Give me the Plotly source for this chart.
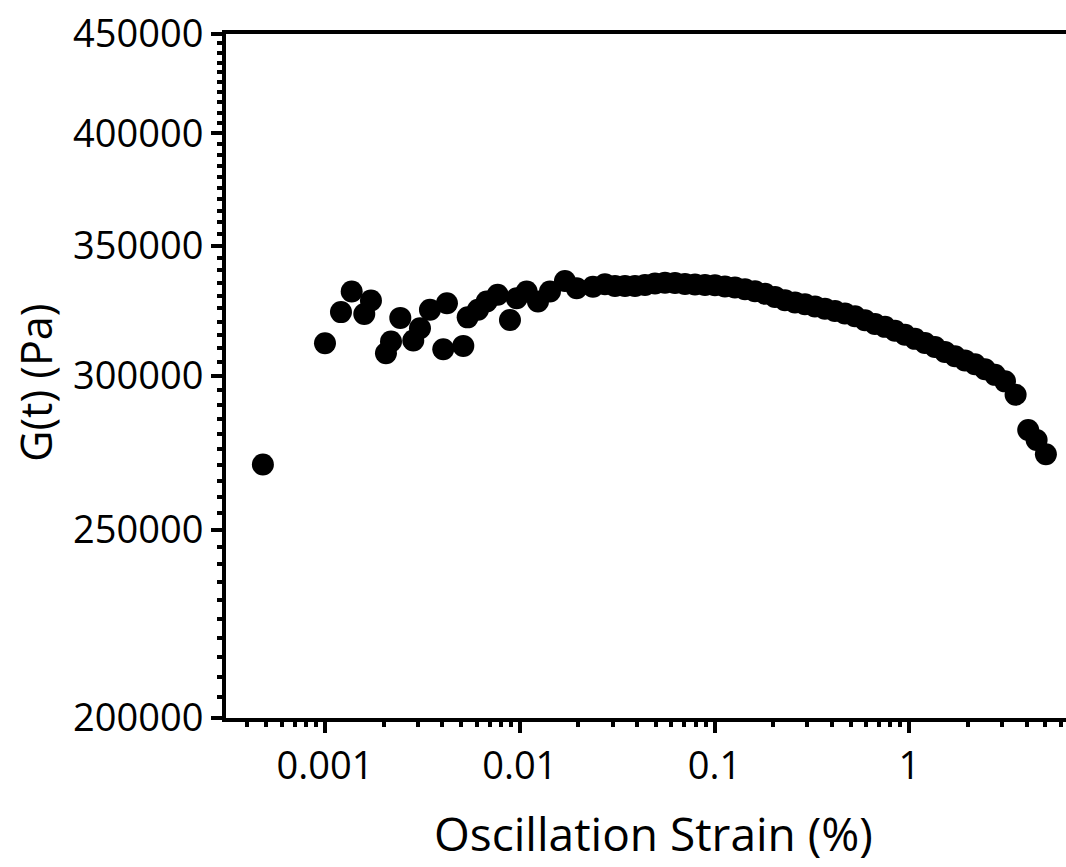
import plotly.graph_objects as go

strain = [0.00048, 0.001, 0.001208, 0.001371, 0.001591, 0.001722, 0.002056, 0.002182,
          0.002436, 0.00284, 0.003074, 0.003459, 0.004048, 0.004229, 0.005129, 0.005401,
          0.006101, 0.006763, 0.0077, 0.008907, 0.009641, 0.010848, 0.012403, 0.014289,
          0.017061, 0.019596, 0.023756, 0.027376,
          0.03082, 0.03469, 0.03904, 0.04394, 0.04946, 0.05566, 0.06265, 0.07051, 0.07936,
          0.08932, 0.1005, 0.1131, 0.1273, 0.1433, 0.1613, 0.1815, 0.2043, 0.2299, 0.2588,
          0.2912, 0.3278, 0.3689, 0.4152, 0.4673, 0.526, 0.592, 0.6663, 0.7499, 0.844,
          0.9499, 1.069, 1.203, 1.354, 1.524, 1.716, 1.931, 2.173, 2.446, 2.753, 3.099,
          3.513, 4.077, 4.503, 5.025]
modulus = [270100, 311900, 323600, 331600, 322900, 328100, 308200, 312500,
           321400, 312900, 317500, 324500, 309700, 327000, 310900, 321600,
           324500, 327700, 330300, 320600, 329000, 331600, 327700, 331600,
           335800, 332900, 333500, 334500,
           333800, 333800, 333800, 334200, 334800, 335100, 335000, 334600, 334400,
           334200, 334100, 333600, 333200, 332500, 331700, 330700, 329500, 328200, 327300,
           326600, 325800, 324900, 324000, 323100, 322000, 320500, 319100, 318000, 316500,
           315000, 313500, 312000, 310500, 308700, 307100, 305600, 304200, 302400, 300400,
           298100, 293400, 281400, 278100, 273400]

x_major = [0.001, 0.01, 0.1, 1]
x_major_text = ["0.001", "0.01", "0.1", "1"]
y_major = [200000, 250000, 300000, 350000, 400000, 450000]
y_major_text = ["200000", "250000", "300000", "350000", "400000", "450000"]
x_title = "Oscillation Strain (%)"
y_title = "G(t) (Pa)"

x_minor = []
for dec in [0.0001, 0.001, 0.01, 0.1, 1]:
    for m in range(2, 10):
        v = round(m * dec, 6)
        if 0.0003 <= v <= 6.3:
            x_minor.append(v)
y_minor = [v for v in range(205000, 450000, 5000) if v % 50000 != 0]

font = "Open Sans"

fig = go.Figure(go.Scatter(
    x=strain, y=modulus, mode="markers",
    marker=dict(size=22, color="black", line=dict(width=0)),
))

fig.update_layout(
    width=1066, height=867,
    margin=dict(l=226, r=0, t=34, b=149),
    paper_bgcolor="white", plot_bgcolor="white",
    showlegend=False,
    font=dict(family=font, color="black"),
    annotations=[
        dict(text=x_title, xref="paper", yref="paper", x=0.509, y=-0.1685,
             xanchor="center", yanchor="middle", showarrow=False,
             font=dict(size=46, family=font, color="black")),
        dict(text=y_title, xref="paper", yref="paper", x=-0.2262, y=0.49,
             xanchor="center", yanchor="middle", showarrow=False, textangle=-90,
             font=dict(size=43, family=font, color="black")),
    ],
)
fig.update_xaxes(
    type="log", range=[-3.5082, 0.8044],
    tickmode="array", tickvals=x_major, ticktext=x_major_text,
    ticks="outside", ticklen=11, tickwidth=4, tickcolor="black",
    minor=dict(tickmode="array", tickvals=x_minor, ticks="outside",
               ticklen=5, tickwidth=4, tickcolor="black", showgrid=False),
    showline=True, linewidth=4, linecolor="black", mirror=True,
    showgrid=False, zeroline=False,
    tickfont=dict(size=38, family=font, color="black"),
)
fig.update_yaxes(
    type="log", range=[5.30103, 5.65321],
    tickmode="array", tickvals=y_major, ticktext=y_major_text,
    ticks="outside", ticklen=11, tickwidth=4, tickcolor="black",
    minor=dict(tickmode="array", tickvals=y_minor, ticks="outside",
               ticklen=5, tickwidth=4, tickcolor="black", showgrid=False),
    showline=True, linewidth=4, linecolor="black", mirror=False,
    showgrid=False, zeroline=False,
    tickfont=dict(size=38, family=font, color="black"),
)

fig.write_html("out.html")
